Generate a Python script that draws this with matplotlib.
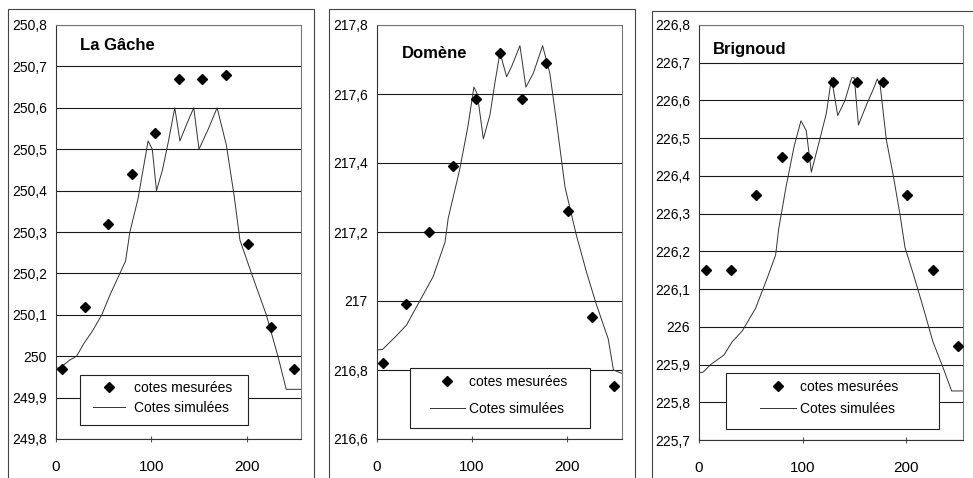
import matplotlib.pyplot as plt
from matplotlib.patches import Rectangle
from matplotlib.ticker import FuncFormatter
import numpy as np

plt.rcParams['font.family'] = ['Liberation Sans', 'DejaVu Sans']
plt.rcParams['font.size'] = 10

W, H = 973, 478

# abscisses des points de mesure (m)
x_mes = [6.5, 30.5, 55, 80, 104, 129.5, 153, 178, 201, 226, 250]

# La Gâche
gache_mes = [249.97, 250.12, 250.32, 250.44, 250.54, 250.67, 250.67, 250.68, 250.27, 250.07, 249.97]
gache_x = [0, 6, 14, 21.6, 29, 38, 48, 57, 65, 73, 77.5, 86, 96.6, 101, 105.4, 111.7, 118,
           124.6, 130, 137, 144.5, 150, 160, 169, 178.7, 186.7, 193, 206.6, 220.6, 232.8,
           241.5, 257]
gache_sim = [249.97, 249.975, 249.99, 250.00, 250.03, 250.06, 250.10, 250.15, 250.19, 250.23,
             250.30, 250.38, 250.52, 250.50, 250.40, 250.45, 250.52, 250.60, 250.52, 250.56,
             250.60, 250.50, 250.55, 250.60, 250.51, 250.39, 250.28, 250.19, 250.10, 250.00,
             249.92, 249.92]

# Domène
domene_mes = [216.82, 216.99, 217.20, 217.39, 217.585, 217.72, 217.585, 217.69, 217.26, 216.955, 216.755]
domene_x = [0, 6, 20.7, 31, 45, 59, 71.6, 75, 87, 96, 102, 105.6, 112, 119, 124, 129.5,
            136.5, 141.8, 150.5, 156.8, 164.6, 174.4, 182, 189, 198, 210, 221, 231, 243.5,
            249, 258]
domene_sim = [216.858, 216.86, 216.90, 216.93, 217.00, 217.07, 217.17, 217.24, 217.38,
              217.51, 217.62, 217.60, 217.47, 217.54, 217.63, 217.72, 217.65, 217.68,
              217.74, 217.62, 217.66, 217.74, 217.66, 217.52, 217.33, 217.19, 217.08,
              216.99, 216.89, 216.80, 216.79]

# Brignoud
brignoud_mes = [226.15, 226.15, 226.35, 226.45, 226.45, 226.65, 226.65, 226.65, 226.35, 226.15, 225.95]
brignoud_x = [0, 4, 11.3, 24, 32, 42, 54.8, 66, 74, 77, 84, 92, 98.5, 103.6, 108.5, 116.5,
              123, 128, 134, 141, 147.5, 150, 154, 162, 168.4, 172.3, 175, 181, 187.7, 194,
              199, 207, 216.7, 226, 236, 244, 255]
brignoud_sim = [225.878, 225.88, 225.90, 225.925, 225.96, 225.99, 226.05, 226.13, 226.19,
                226.26, 226.37, 226.48, 226.546, 226.52, 226.41, 226.495, 226.566, 226.66,
                226.56, 226.60, 226.66, 226.66, 226.535, 226.59, 226.63, 226.657, 226.64,
                226.495, 226.40, 226.30, 226.21, 226.14, 226.05, 225.96, 225.89, 225.83,
                225.83]

sites = ['La Gâche', 'Domène', 'Brignoud']


def virgule(v, pos):
    s = f"{v:.1f}"
    if s.endswith('.0'):
        s = s[:-2]
    return s.replace('.', ',')


def px_rect(left, top, right, bottom):
    return [left / W, 1 - bottom / H, (right - left) / W, (bottom - top) / H]


fig = plt.figure(figsize=(W / 100, H / 100), dpi=100)

panels = [
    dict(nom=sites[0], xs=gache_x, sim=gache_sim, mes=gache_mes,
         zone=(56, 25, 301, 439), xmax=257, yl=(249.8, 250.8), yt=11,
         cadre=(8, 9, 314), titre=(80, 46),
         leg=(93, 381), leg_box=(80, 375, 248, 425), hl=2.3, htp=0.65, ls=0.45),
    dict(nom=sites[1], xs=domene_x, sim=domene_sim, mes=domene_mes,
         zone=(377, 25, 622, 439), xmax=258, yl=(216.6, 217.8), yt=7,
         cadre=(329, 9, 635), titre=(402, 53.5),
         leg=(430, 375), leg_box=(410, 368, 590, 428), hl=2.5, htp=0.3, ls=0.95),
    dict(nom=sites[2], xs=brignoud_x, sim=brignoud_sim, mes=brignoud_mes,
         zone=(699, 25, 963, 440), xmax=255, yl=(225.7, 226.8), yt=12,
         cadre=(652, 11, 990), titre=(713, 49.5),
         leg=(760, 380), leg_box=(726, 373, 939, 429), hl=2.6, htp=0.3, ls=0.6),
]

for p in panels:
    ax = fig.add_axes(px_rect(*p['zone']))
    ax.plot(x_mes, p['mes'], ls='none', marker='D', ms=4.6, color='black',
            label='cotes mesurées', zorder=3)
    ax.plot(p['xs'], p['sim'], color='#333333', lw=0.7, label='Cotes simulées', zorder=2)

    ax.set_xlim(0, p['xmax'])
    ax.set_ylim(*p['yl'])
    ax.set_xticks([0, 100, 200])
    ax.set_yticks(np.linspace(p['yl'][0], p['yl'][1], p['yt']))
    ax.yaxis.set_major_formatter(FuncFormatter(virgule))
    ax.tick_params(axis='y', length=0, pad=6.5, labelsize=10)
    ax.tick_params(axis='x', direction='inout', length=4, pad=13, labelsize=11,
                   color='#555555')
    ax.yaxis.grid(True, color='#1a1a1a', lw=0.8)
    ax.set_axisbelow(True)

    for side in ('left', 'bottom'):
        ax.spines[side].set_color('#333333')
        ax.spines[side].set_linewidth(0.8)
    for side in ('top', 'right'):
        ax.spines[side].set_color('#777777')
        ax.spines[side].set_linewidth(0.8)
        ax.spines[side].set_linestyle((0, (1, 1)))

    # titre du site
    l, t, r, b = p['zone']
    ax.text((p['titre'][0] - l) / (r - l), (b - p['titre'][1]) / (b - t), p['nom'],
            transform=ax.transAxes, fontsize=12, fontweight='bold', va='center', ha='left')

    # cadre de la légende
    bl, bt, br, bb = p['leg_box']
    ax.add_patch(Rectangle((bl / W, 1 - bb / H), (br - bl) / W, (bb - bt) / H,
                           transform=fig.transFigure, facecolor='white', edgecolor='#222222',
                           lw=0.8, zorder=4, clip_on=False))
    leg = ax.legend(loc='upper left', bbox_to_anchor=(p['leg'][0] / W, 1 - p['leg'][1] / H),
                    bbox_transform=fig.transFigure, frameon=False, borderpad=0,
                    borderaxespad=0, handlelength=p['hl'], handletextpad=p['htp'],
                    labelspacing=p['ls'], fontsize=10)
    leg.set_zorder(5)

    # cadre du graphique
    cl, ct, cr = p['cadre']
    fig.add_artist(Rectangle((cl / W, -0.1), (cr - cl) / W, 1 - ct / H + 0.1,
                             transform=fig.transFigure, fill=False, edgecolor='#444444',
                             lw=0.8))

fig.savefig('out.png', dpi=100)
